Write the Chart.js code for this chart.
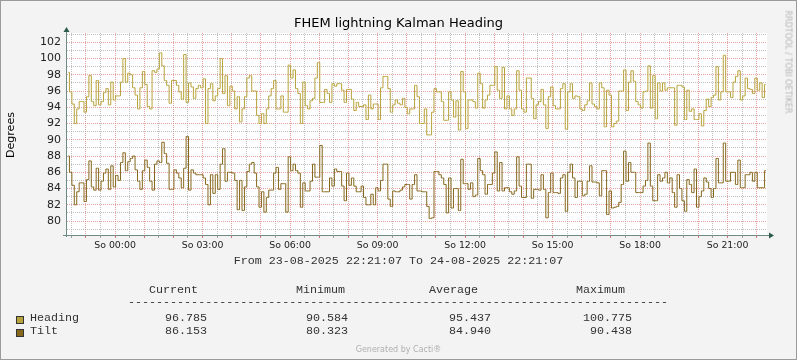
<!DOCTYPE html>
<html><head><meta charset="utf-8">
<script src="https://cdn.jsdelivr.net/npm/chart.js@4.4.1/dist/chart.umd.min.js"></script>
<style>
html,body{margin:0;padding:0;background:#F3F3F3;}
#wrap{position:relative;width:797px;height:360px;overflow:hidden;background:#F3F3F3;}
canvas{position:absolute;left:0;top:0;}
.t{position:absolute;white-space:pre;line-height:1;}
.mono{font-family:"Liberation Mono",monospace;font-size:11.7px;color:#333;}
.sw{position:absolute;width:6px;height:6px;border:1px solid #333;}
</style></head><body>
<div id="wrap">
<canvas id="c" width="797" height="360"></canvas>
</div>
<script>
// ---- data (5-minute steps, 23-08-2025 22:21:07 .. 24-08-2025 22:21:07)
const headingValues = [
98.3,95.9,94.4,92.0,93.8,94.7,94.7,93.4,95.3,97.9,94.7,94.2,97.3,94.3,94.7,95.8,96.3,94.3,97.1,94.9,95.4,95.4,97.1,100.0,97.1,98.2,98.0,96.4,95.5,93.8,96.4,98.4,96.8,94.1,93.8,98.5,98.3,98.7,100.7,99.1,97.3,96.7,94.5,97.3,97.3,96.7,95.9,95.0,100.5,94.6,97.0,96.5,95.1,96.3,96.7,96.4,97.5,92.0,96.3,96.9,94.8,95.4,96.3,100.0,95.7,97.9,94.2,96.6,96.0,93.8,95.3,92.2,
93.8,95.3,97.6,97.9,96.0,96.0,93.0,92.0,93.2,92.0,93.8,95.4,96.3,97.3,93.8,93.8,95.4,93.4,93.4,99.2,97.6,98.6,96.3,95.7,92.0,97.1,94.2,93.8,94.8,95.1,97.6,99.5,94.6,94.6,96.2,95.7,94.6,96.9,96.6,96.9,96.9,96.1,94.6,96.2,96.2,95.0,93.6,94.6,94.1,94.1,94.3,92.5,95.5,93.8,94.4,94.4,92.5,96.4,97.8,97.8,96.3,93.4,94.3,94.9,94.5,94.3,95.1,94.0,93.2,93.8,93.8,96.7,
95.3,92.0,92.0,93.8,90.6,90.6,93.4,96.3,95.9,95.9,94.7,92.4,92.4,95.9,94.9,92.8,94.8,91.2,98.4,95.9,91.4,94.9,94.9,94.7,93.9,98.2,96.9,93.9,94.9,95.5,96.7,96.7,99.0,96.1,95.1,98.9,93.8,95.4,93.8,93.0,93.8,98.5,96.1,93.8,93.4,97.6,97.6,95.1,92.6,94.3,94.7,96.2,94.3,91.4,95.3,96.5,94.2,93.8,93.8,96.3,96.9,91.3,95.9,96.9,95.1,95.4,95.3,93.8,93.6,94.3,94.8,97.0,
94.4,94.1,93.8,97.0,96.4,91.6,96.1,95.5,91.6,92.0,92.3,96.0,96.0,98.6,93.6,97.1,98.5,97.2,94.7,94.3,93.9,95.9,96.0,99.1,93.9,97.9,92.6,97.0,96.0,97.0,96.1,96.4,96.4,96.4,91.8,96.7,96.7,96.5,92.5,96.1,93.5,93.8,92.5,92.5,93.2,91.7,93.6,95.0,94.1,95.2,95.5,99.0,94.9,95.9,100.4,95.9,95.9,95.2,97.1,97.8,98.5,94.9,95.4,97.6,96.3,96.2,95.7,97.6,96.1,97.0,95.2,96.8
];
const tiltValues = [
88.0,86.0,84.4,82.0,83.6,84.7,84.7,82.4,85.1,87.4,84.2,83.8,86.5,83.8,84.9,85.9,86.4,83.9,86.8,84.2,85.6,85.0,87.2,88.4,86.2,87.3,87.7,88.0,86.3,84.9,83.9,86.2,87.5,86.6,84.9,83.8,87.0,87.4,87.2,89.7,88.3,87.1,83.9,83.9,86.3,85.9,85.3,84.1,86.5,90.4,83.8,86.3,85.9,85.7,85.7,85.7,85.3,84.5,82.0,85.7,83.4,85.7,83.9,87.0,88.9,84.9,86.0,86.0,85.9,85.0,81.4,85.0,
81.3,84.2,86.1,87.0,87.2,85.9,84.2,81.7,83.6,81.1,82.9,83.8,83.8,85.9,86.6,83.9,84.6,84.6,81.1,87.9,86.2,87.0,86.2,85.9,81.7,84.7,83.7,83.7,84.9,87.0,85.4,85.4,89.3,83.6,83.6,83.6,85.3,84.3,86.4,86.1,86.1,84.3,82.5,85.9,84.4,85.3,84.3,83.6,83.6,84.3,82.9,82.0,82.0,83.3,82.0,84.1,83.7,85.0,87.0,87.0,82.7,81.8,83.7,83.6,83.6,83.8,84.2,84.5,84.5,82.7,84.5,85.7,
83.7,83.7,83.6,83.6,81.8,80.3,80.4,86.1,86.1,85.7,85.3,84.5,81.0,85.3,81.6,84.0,84.0,81.3,87.6,84.6,84.6,83.9,84.7,83.0,83.2,87.7,86.2,85.7,83.3,84.5,84.5,85.9,88.5,83.7,87.2,83.7,84.1,84.1,83.6,83.3,83.7,87.9,84.3,82.9,82.9,87.0,87.0,82.8,83.9,83.9,83.8,85.7,83.9,80.4,83.5,85.9,83.5,83.5,83.4,85.3,85.7,81.2,86.0,87.0,85.3,82.9,84.9,84.9,83.1,83.3,84.9,86.8,
84.8,84.8,84.7,83.1,86.2,86.2,80.8,83.7,81.6,81.7,81.8,82.3,84.5,88.6,84.9,87.2,86.0,86.0,83.5,83.5,83.5,84.3,85.0,89.6,84.3,82.5,82.5,85.7,84.9,85.3,86.0,84.7,85.3,83.5,81.7,85.7,84.0,82.5,81.2,85.1,84.5,83.5,86.4,81.7,83.0,83.7,85.3,84.8,84.0,82.9,84.0,87.7,84.7,84.7,89.6,84.9,84.9,86.0,86.0,84.5,87.5,84.1,84.1,85.7,85.7,86.0,84.9,86.0,84.1,84.1,84.1,86.2
];
const stepMinutes = 5;
const startClockMinutes = 22*60 + 21 + 7/60;      // 22:21:07
const spanMinutes = 1440;
const yTickValues = [80,82,84,86,88,90,92,94,96,98,100,102];
const xLabelClock = [0,3,6,9,12,15,18,21];        // hours
const xTickLabels = ['So 00:00','So 03:00','So 06:00','So 09:00','So 12:00','So 15:00','So 18:00','So 21:00'];
const seriesNames = ['Heading','Tilt'];
const legendHeaders = ['Current','Minimum','Average','Maximum'];
const headingStats = ['96.785','90.584','95.437','100.775'];
const tiltStats = ['86.153','80.323','84.940','90.438'];

const COL_HEAD = '#B8A33B', COL_TILT = '#86681D';
const RED = 'rgba(222,130,130,0.75)', GREY = 'rgba(170,170,170,0.75)';

function toPts(vals){ return vals.map((v,i)=>({x:i*stepMinutes+stepMinutes/2, y:v})); }
function clockOf(off){ return ((off + startClockMinutes) % 1440 + 1440) % 1440; }
function isHour(off){ const r = clockOf(off) % 60; return r < 0.01 || r > 59.99; }

const axesPlugin = {
  id:'axesArrows',
  afterDatasetsDraw(chart){
    const {ctx, chartArea:a} = chart;
    ctx.save();
    ctx.strokeStyle = '#6E8A84'; ctx.lineWidth = 1;
    ctx.beginPath();
    ctx.moveTo(a.left-0.5, a.bottom+2); ctx.lineTo(a.left-0.5, a.top-1);
    ctx.moveTo(a.left-4, a.bottom+0.5); ctx.lineTo(a.right+3, a.bottom+0.5);
    ctx.stroke();
    ctx.fillStyle = '#2E5A4E';
    ctx.beginPath();
    ctx.moveTo(a.left-0.5, a.top-6); ctx.lineTo(a.left-3.5, a.top-1); ctx.lineTo(a.left+2.5, a.top-1); ctx.closePath(); ctx.fill();
    ctx.beginPath();
    ctx.moveTo(a.right+7, a.bottom+0.5); ctx.lineTo(a.right+2, a.bottom-2.5); ctx.lineTo(a.right+2, a.bottom+3.5); ctx.closePath(); ctx.fill();
    ctx.restore();
  }
};
const bgPlugin = {
  id:'plotBg',
  beforeDraw(chart){
    const {ctx, chartArea:a, width, height} = chart;
    ctx.save();
    ctx.fillStyle = '#F3F3F3'; ctx.fillRect(0,0,width,height);
    ctx.fillStyle = '#FFFFFF'; ctx.fillRect(a.left, a.top, a.right-a.left, a.bottom-a.top);
    ctx.strokeStyle = '#9A9A9A'; ctx.lineWidth = 1;
    ctx.strokeRect(0.5,0.5,width-1,height-1);
    ctx.restore();
  }
};

new Chart(document.getElementById('c'), {
  type:'line',
  data:{ datasets:[
    {label:seriesNames[0], data:toPts(headingValues), borderColor:COL_HEAD, borderWidth:1, pointRadius:0, stepped:'middle', tension:0, fill:false},
    {label:seriesNames[1], data:toPts(tiltValues), borderColor:COL_TILT, borderWidth:1, pointRadius:0, stepped:'middle', tension:0, fill:false}
  ]},
  options:{
    responsive:false, animation:false, devicePixelRatio:1,
    layout:{padding:{left:0, top:33, right:30, bottom:0}},
    plugins:{legend:{display:false}, title:{display:false}, tooltip:{enabled:false}},
    scales:{
      x:{ type:'linear', min:0, max:spanMinutes,
        afterFit(s){ s.height = 125; },
        afterBuildTicks(s){
          const t=[]; const first = (Math.ceil(startClockMinutes/30)*30) - startClockMinutes;
          for(let m=first; m<spanMinutes; m+=30) t.push({value:m});
          s.ticks = t;
        },
        grid:{ drawTicks:true, tickLength:3,
          color:c=>{ const v=c.tick?c.tick.value:0; return isHour(v) ? RED:GREY; },
          tickColor:c=>{ const v=c.tick?c.tick.value:0; return isHour(v) ? 'rgba(222,100,100,0.9)':'rgba(150,150,150,0.9)'; }
        },
        border:{display:false, dash:[1,1]},
        ticks:{ autoSkip:false, maxRotation:0, padding:2, color:'#222', font:{family:'DejaVu Sans', size:9.4},
          callback(v){ const c=clockOf(v); for(let i=0;i<xLabelClock.length;i++){ if(Math.abs(c-xLabelClock[i]*60)<0.01) return xTickLabels[i]; } return ''; } }
      },
      y:{ min:78.28, max:103.145,
        afterFit(s){ s.width = 67; },
        afterBuildTicks(s){ const t=[]; for(let v=79; v<=103; v++) t.push({value:v}); s.ticks=t; },
        grid:{ drawTicks:false, color:c=>{ const v=c.tick?c.tick.value:0; return (Math.round(v)%2===0)?RED:GREY; } },
        border:{display:false, dash:[1,1]},
        ticks:{ autoSkip:false, padding:6, color:'#222', font:{family:'DejaVu Sans', size:11},
          callback(v){ return yTickValues.includes(v) ? String(v) : ''; } }
      }
    }
  },
  plugins:[bgPlugin, axesPlugin]
});

// ---- real-text overlays
const wrap = document.getElementById('wrap');
function addText(txt, css, cls){ const d=document.createElement('div'); d.className='t'+(cls?' '+cls:''); d.textContent=txt; d.style.cssText+=css; wrap.appendChild(d); return d; }
addText('FHEM lightning Kalman Heading', 'left:0;width:797px;text-align:center;top:14.5px;font:13px "DejaVu Sans";color:#000;');
addText('Degrees', 'left:10px;top:135px;font:11px "DejaVu Sans";color:#000;transform:translate(-50%,-50%) rotate(-90deg);');
addText('RRDTOOL / TOBI OETIKER', 'left:788px;top:62px;font:8px "DejaVu Sans";color:#B5B5B5;transform:translate(-50%,-50%) rotate(90deg);');
addText('From 23-08-2025 22:21:07 To 24-08-2025 22:21:07', 'left:0;width:797px;text-align:center;top:256px;', 'mono');
const hdrX = [149,296,429,576];
legendHeaders.forEach((h,i)=>addText(h, 'left:'+hdrX[i]+'px;top:285px;', 'mono'));
addText('-'.repeat(77), 'left:128px;top:297px;', 'mono');
const valRight = [207,348,491,632];
[[seriesNames[0],headingStats,313,COL_HEAD],[seriesNames[1],tiltStats,326,COL_TILT]].forEach(([n,st,top,col])=>{
  const s=document.createElement('div'); s.className='sw'; s.style.left='16px'; s.style.top=(top+3)+'px'; s.style.background=col; wrap.appendChild(s);
  addText(n, 'left:30px;top:'+top+'px;', 'mono');
  st.forEach((v,i)=>addText(v, 'right:'+(797-valRight[i])+'px;top:'+top+'px;', 'mono'));
});
addText('Generated by Cacti®', 'left:0;width:797px;text-align:center;top:345px;font:8px "DejaVu Sans";color:#B0B0B0;');
</script>
</body></html>
